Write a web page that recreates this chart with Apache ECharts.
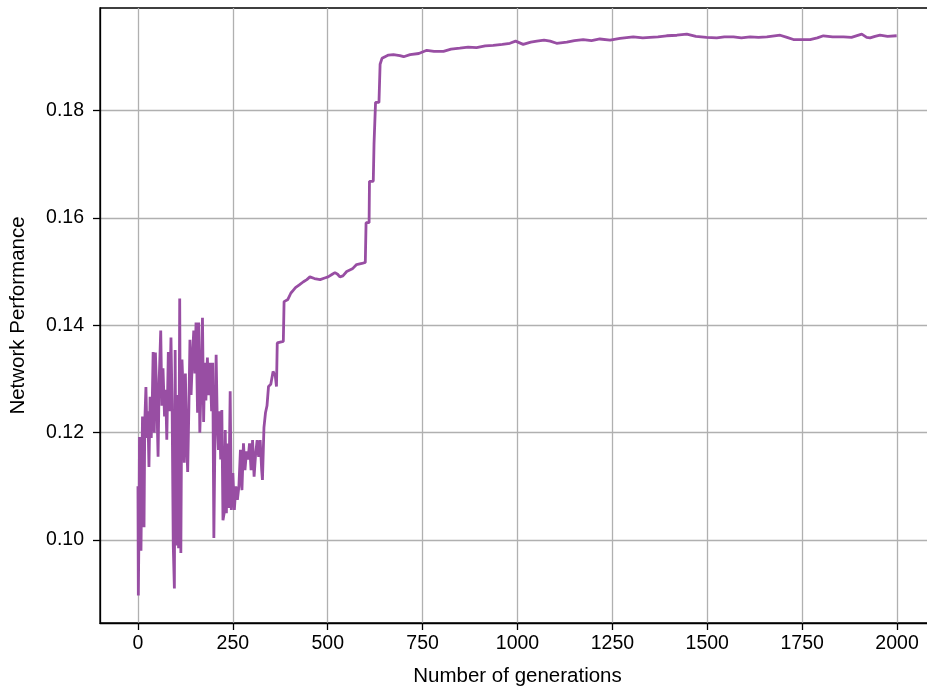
<!DOCTYPE html>
<html lang="en">
  <head>
    <meta charset="utf-8" />
    <title>Network performance over generations</title>
    <script
      type="text/javascript"
      src="https://cdn.jsdelivr.net/npm/echarts@6/dist/echarts.min.js"
    ></script>
    <style type="text/css">
      * {
        margin: 0;
        padding: 0;
      }
      html,
      body,
      #chart {
        width: 100%;
        height: 100%;
        overflow: hidden;
        background: #fff;
      }
    </style>
  </head>
  <body>
    <div id="chart"></div>
    <script type="text/javascript">
      // values
      var generations = [
        0, 1, 3, 4, 6, 8, 10, 12, 14, 16, 18, 21, 24, 26, 29, 32, 35, 38, 40,
        43, 46, 49, 53, 56, 60, 63, 66, 70, 73, 76, 80, 83, 87, 90, 93, 96, 98,
        101, 104, 107, 110, 113, 116, 119, 122, 125, 128, 131, 134, 137, 140,
        143, 147, 150, 153, 157, 160, 163, 166, 170, 173, 176, 179, 183, 186,
        190, 194, 197, 200, 203, 206, 209, 212, 215, 218, 221, 224, 227, 230,
        233, 236, 239, 243, 246, 250, 254, 258, 262, 266, 270, 274, 278, 282,
        286, 290, 294, 298, 302, 306, 310, 314, 318, 322, 326, 328, 332, 336,
        340, 344, 350, 356, 362, 365, 367, 372, 383, 385, 395, 403, 409, 415,
        425, 436, 445, 453, 465, 480, 492, 501, 512, 519, 526, 532, 540, 550,
        565, 576, 590, 599, 601, 609, 610, 620, 622, 624, 626, 635, 638, 643,
        651, 660, 673, 690, 700, 717, 740, 761, 780, 805, 825, 848, 870, 892,
        915, 936, 960, 980, 995, 1015, 1035, 1051, 1070, 1086, 1103, 1130,
        1150, 1173, 1195, 1217, 1244, 1270, 1305, 1330, 1349, 1370, 1393, 1420,
        1446, 1470, 1498, 1525, 1545, 1569, 1590, 1613, 1635, 1657, 1692, 1710,
        1727, 1750, 1771, 1790, 1806, 1830, 1859, 1880, 1907, 1920, 1929, 1942,
        1955, 1975, 1999
      ];
      var performance = [
        0.110, 0.0897, 0.104, 0.1192, 0.103, 0.098, 0.112, 0.123, 0.110,
        0.1024, 0.122, 0.1285, 0.119, 0.124, 0.1136, 0.1267, 0.119, 0.127,
        0.135, 0.120, 0.1349, 0.128, 0.1155, 0.130, 0.139, 0.125, 0.132, 0.123,
        0.128, 0.1187, 0.135, 0.124, 0.1377, 0.125, 0.099, 0.091, 0.1354,
        0.099, 0.127, 0.0985, 0.145, 0.0976, 0.1336, 0.128, 0.1144, 0.131,
        0.119, 0.1127, 0.124, 0.1373, 0.127, 0.133, 0.139, 0.131, 0.1405,
        0.1237, 0.1405, 0.120, 0.128, 0.1414, 0.122, 0.133, 0.126, 0.134,
        0.127, 0.133, 0.124, 0.133, 0.1004, 0.120, 0.1345, 0.122, 0.1168,
        0.124, 0.115, 0.1242, 0.1037, 0.105, 0.1205, 0.105, 0.118, 0.106,
        0.1277, 0.1056, 0.1125, 0.1056, 0.110, 0.1075, 0.110, 0.1168, 0.1093,
        0.118, 0.113, 0.1165, 0.115, 0.118, 0.113, 0.1186, 0.1118, 0.116,
        0.1186, 0.1155, 0.1186, 0.113, 0.1112, 0.121, 0.1237, 0.125, 0.1286,
        0.129, 0.1314, 0.1305, 0.1286, 0.1367, 0.137, 0.137, 0.1444, 0.1448,
        0.146, 0.1465, 0.147, 0.1475, 0.1481, 0.1485, 0.149, 0.1487, 0.1485,
        0.1488, 0.149, 0.1495, 0.1498, 0.1495, 0.149, 0.1492, 0.150, 0.1505,
        0.1513, 0.1515, 0.1517, 0.1591, 0.1591, 0.1668, 0.1668, 0.1738,
        0.1738, 0.1815, 0.1815, 0.1886, 0.1897, 0.190, 0.1903, 0.1904, 0.1902,
        0.190, 0.1904, 0.1906, 0.1912, 0.191, 0.191, 0.1914, 0.1916, 0.1918,
        0.1917, 0.192, 0.1921, 0.1923, 0.1925, 0.1929, 0.1923, 0.1927, 0.1929,
        0.1931, 0.1929, 0.1925, 0.1927, 0.193, 0.1932, 0.193, 0.1933, 0.1931,
        0.1934, 0.1937, 0.1935, 0.1936, 0.1937, 0.1939, 0.194, 0.1942, 0.1938,
        0.1936, 0.1935, 0.1937, 0.1937, 0.1935, 0.1937, 0.1936, 0.1937, 0.194,
        0.1936, 0.1932, 0.1932, 0.1932, 0.1935, 0.1939, 0.1937, 0.1937,
        0.1936, 0.1942, 0.1936, 0.1935, 0.1938, 0.194, 0.1938, 0.1939
      ];
      var xTicks = [0, 250, 500, 750, 1000, 1250, 1500, 1750, 2000];
      var yTicks = [0.1, 0.12, 0.14, 0.16, 0.18];

      var points = generations.map(function (g, i) {
        return [g, performance[i]];
      });

      var chart = echarts.init(document.getElementById("chart"));
      var font = "Liberation Sans";
      chart.setOption({
        animation: false,
        backgroundColor: "#fff",
        grid: {
          left: 100,
          top: 8,
          bottom: 64,
          right: -8,
          outerBoundsMode: "none",
          containLabel: false,
          show: true,
          borderColor: "#000",
          borderWidth: 1.3,
          backgroundColor: "transparent",
        },
        xAxis: {
          type: "value",
          min: -100,
          max: 2100,
          name: "Number of generations",
          nameLocation: "middle",
          nameGap: 43,
          nameTextStyle: { color: "#000", fontSize: 20.5, fontFamily: font },
          axisLine: { show: true, onZero: false, lineStyle: { color: "#000", width: 1.3 } },
          axisTick: {
            show: true,
            inside: false,
            length: 7,
            customValues: xTicks,
            lineStyle: { color: "#000", width: 1.3 },
          },
          axisLabel: {
            customValues: xTicks,
            margin: 11,
            color: "#000",
            fontSize: 19.5,
            fontFamily: font,
            formatter: function (v) {
              return String(v);
            },
          },
          splitLine: { show: true, lineStyle: { color: "#b0b0b0", width: 1.3 } },
        },
        yAxis: {
          type: "value",
          min: 0.08456,
          max: 0.19907,
          name: "Network Performance",
          nameLocation: "middle",
          nameGap: 71,
          nameTextStyle: { color: "#000", fontSize: 20.5, fontFamily: font },
          axisLine: { show: true, onZero: false, lineStyle: { color: "#000", width: 1.3 } },
          axisTick: {
            show: true,
            inside: false,
            length: 7,
            customValues: yTicks,
            lineStyle: { color: "#000", width: 1.3 },
          },
          axisLabel: {
            customValues: yTicks,
            margin: 16,
            color: "#000",
            fontSize: 19.5,
            fontFamily: font,
            formatter: function (v) {
              return v.toFixed(2);
            },
          },
          splitLine: { show: true, lineStyle: { color: "#b0b0b0", width: 1.3 } },
        },
        series: [
          {
            type: "line",
            data: points,
            showSymbol: false,
            symbol: "none",
            lineStyle: { color: "#984ea3", width: 2.8 },
            itemStyle: { color: "#984ea3" },
          },
        ],
      });
    </script>
  </body>
</html>
